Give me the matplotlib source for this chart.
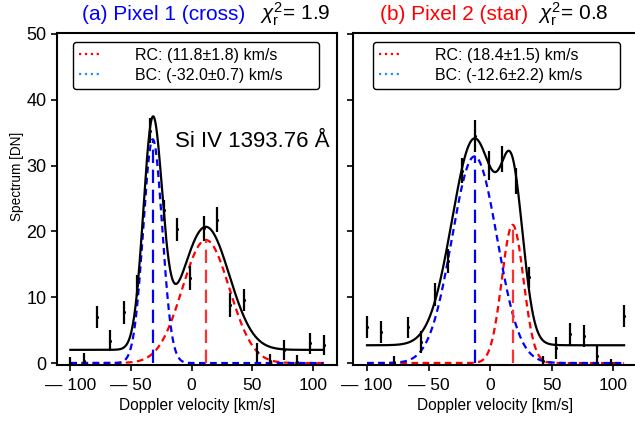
import numpy as np
import matplotlib
matplotlib.use("Agg")
import matplotlib.pyplot as plt
from matplotlib.lines import Line2D

plt.rcParams['font.family'] = ['Liberation Sans', 'DejaVu Sans']
plt.rcParams['mathtext.fontset'] = 'custom'
plt.rcParams['mathtext.rm'] = 'Liberation Sans'
plt.rcParams['mathtext.it'] = 'Liberation Sans:italic'

# velocity grid of the observed points [km/s]
velocity = [-100, -89, -78, -67, -56, -45, -34, -23, -12, -1,
            10, 21, 32, 43, 54, 65, 76, 87, 98, 109]

# pixel 1 (cross)
spec1 = [0.0, 0.3, 7.0, 3.4, 7.7, 11.8, 35.3, 23.2, 20.3, 12.9,
         20.5, 21.8, 8.8, 9.6, 1.6, 0.3, 2.0, 0.2, 3.0, 2.7]
err1 = [0.9, 1.2, 1.65, 1.6, 1.7, 1.6, 1.9, 1.6, 1.8, 1.8,
        1.9, 1.9, 1.8, 1.7, 1.5, 1.0, 1.5, 1.0, 1.6, 1.5]
# fit: background, blue comp (amp, centre, sigma), red comp
bg1 = 2.0
bc1 = (34.0, -32.0, 7.8)
rc1 = (18.7, 11.8, 19.4)

# pixel 2 (star)
spec2 = [5.5, 4.7, 0.0, 5.4, 3.2, 10.4, 15.5, 29.2, 34.5, 30.0,
         31.0, 27.7, 13.0, 0.3, 2.3, 4.4, 4.1, 1.1, 0.05, 7.2]
err2 = [1.65, 1.65, 1.0, 1.65, 1.65, 1.8, 1.8, 1.9, 2.5, 2.2,
        2.0, 2.0, 1.65, 0.7, 1.65, 1.75, 1.65, 1.5, 0.5, 1.65]
bg2 = 2.7
bc2 = (31.4, -12.6, 18.3)
rc2 = (21.0, 18.4, 8.8)

titles = ["(a) Pixel 1 (cross)", "(b) Pixel 2 (star)"]
title_colors = ["blue", "red"]
chi2 = ["1.9", "0.8"]
rc_labels = ["RC: (11.8\u00b11.8) km/s", "RC: (18.4\u00b11.5) km/s"]
bc_labels = ["BC: (-32.0\u00b10.7) km/s", "BC: (-12.6\u00b12.2) km/s"]
xticks = [-100, -50, 0, 50, 100]
xticklabels = ["\u2014 100", "\u2014 50", "0", "50", "100"]


def gauss(v, p):
    a, c, s = p
    return a * np.exp(-(v - c) ** 2 / (2 * s ** 2))


fig = plt.figure(figsize=(6.35, 4.21), dpi=100)
ax1 = fig.add_axes([57 / 635, 56 / 421, 280 / 635, 332 / 421])
ax2 = fig.add_axes([353 / 635, 56 / 421, 285 / 635, 332 / 421])

# axes, data, fit, x-limits, legend box (x0, width) in axes fraction
panels = [(ax1, spec1, err1, bg1, bc1, rc1, (-111, 120), (0.057, 0.879)),
          (ax2, spec2, err2, bg2, bc2, rc2, (-111.4, 120.3), (0.070, 0.867))]

for i, (ax, spec, err, bg, bc, rc, xl, lb) in enumerate(panels):
    v = np.linspace(velocity[0], velocity[-1], 600)
    blue = gauss(v, bc)
    red = gauss(v, rc)
    ax.errorbar(velocity, spec, yerr=err, fmt='.', color='black',
                ms=2.5, elinewidth=1.6, capsize=0, zorder=3)
    ax.plot(v, red, color='red', ls=(0, (3, 2)), lw=1.6, zorder=2)
    ax.plot(v, blue, color='blue', ls=(0, (3, 2)), lw=1.6, zorder=2)
    ax.vlines(bc[1], 0, bc[0], color='blue', ls=(0, (6, 3)), lw=1.6, zorder=2)
    ax.vlines(rc[1], 0, rc[0], color='#ff3030', ls=(0, (6, 3)), lw=1.6,
              zorder=2)
    ax.plot(v, bg + blue + red, color='black', lw=1.6, zorder=4)

    ax.set_xlim(*xl)
    ax.set_ylim(-0.3, 50.15)
    ax.set_xticks(xticks)
    ax.set_xticklabels(xticklabels)
    ax.set_yticks([0, 10, 20, 30, 40, 50])
    ax.tick_params(direction='out', length=4, width=1.2, labelsize=13)
    ax.tick_params(axis='x', labelsize=12.5, pad=5)
    for s in ax.spines.values():
        s.set_linewidth(1.5)
    ax.set_xlabel("Doppler velocity [km/s]", fontsize=11.2, labelpad=4)

    handles = [Line2D([], [], color='red', ls=':', lw=1.6),
               Line2D([], [], color='#1e90ff', ls=':', lw=1.6)]
    leg = ax.legend(handles, [rc_labels[i], bc_labels[i]], loc='upper left',
                    bbox_to_anchor=(lb[0], 0.5, lb[1], 0.473), mode='expand',
                    borderaxespad=0, fontsize=11.5, handlelength=1.4,
                    handletextpad=2.1, labelspacing=0.33, borderpad=0.36,
                    fancybox=True, framealpha=1)
    leg.get_frame().set_edgecolor('black')
    leg.get_frame().set_linewidth(1.0)

ax1.set_ylabel("Spectrum [DN]", fontsize=9.8)
ax1.yaxis.set_label_coords(-0.118, 0.569)
ax2.set_yticklabels([])
ax1.text(-13.6, 32.8, "Si IV 1393.76 \u00c5", fontsize=16, va='baseline')

# titles above each panel
fig.text(82 / 635, 1 - 20 / 421, titles[0], color=title_colors[0],
         fontsize=15, va='baseline')
fig.text(260 / 635, 1 - 20 / 421, r"$\chi_\mathrm{r}^2$= " + chi2[0],
         fontsize=15, va='baseline')
fig.text(380 / 635, 1 - 20 / 421, titles[1], color=title_colors[1],
         fontsize=15, va='baseline')
fig.text(538 / 635, 1 - 20 / 421, r"$\chi_\mathrm{r}^2$= " + chi2[1],
         fontsize=15, va='baseline')

fig.savefig("out.png", dpi=100)
